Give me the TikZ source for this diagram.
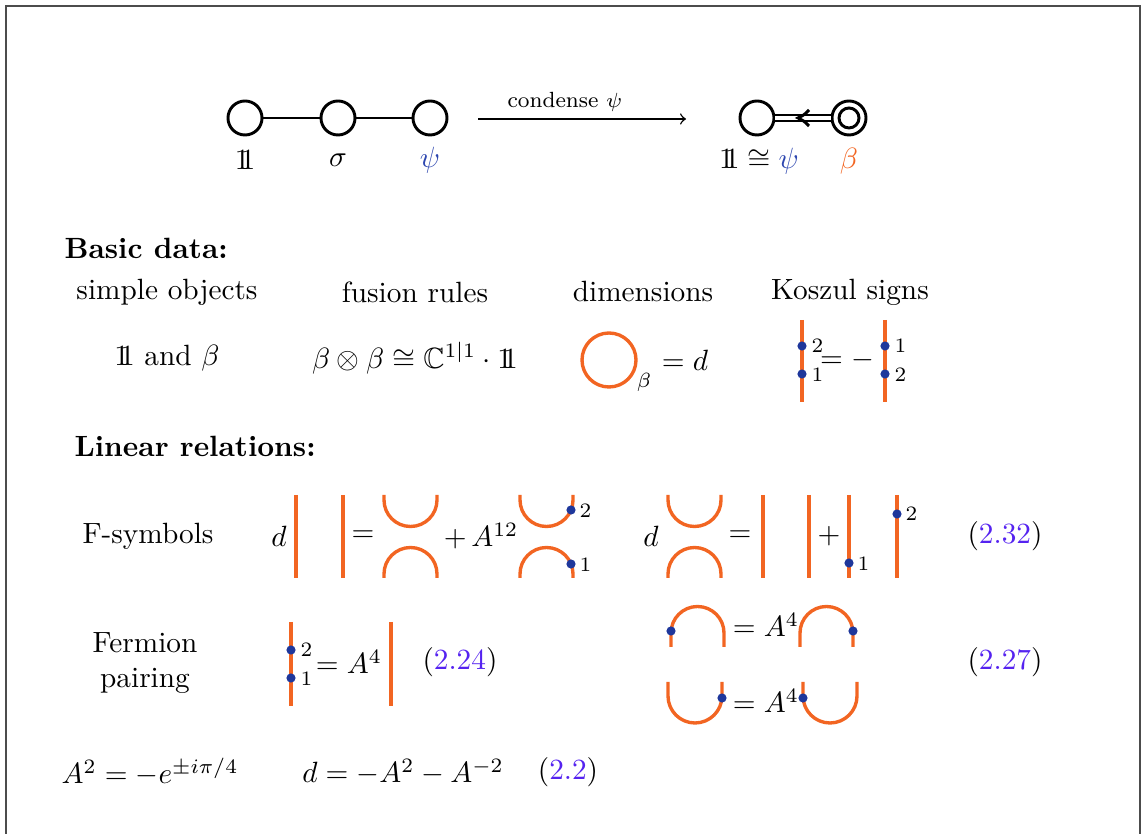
\documentclass[tikz,border=0pt]{standalone}
\usepackage{amssymb}
\IfFileExists{dsfont.sty}{\usepackage{dsfont}\newcommand{\one}{\mathds{1}}}{\newcommand{\one}{\mathrm{1\mkern-5.5mu 1}}}
\definecolor{orng}{RGB}{242,101,34}
\definecolor{psib}{RGB}{45,70,175}
\definecolor{dotb}{RGB}{30,55,155}
\definecolor{linkc}{RGB}{85,35,240}
% cup (U shape): #1 x-left, #2 y of top ends, #3 y where arc begins, #4 radius
\newcommand{\mycup}[4]{\draw[ostr] (#1,#2) -- (#1,#3) .. controls (#1,{#3+0.5523*#4}) and ({#1+#4-0.5523*#4},{#3+#4}) .. ({#1+#4},{#3+#4}) .. controls ({#1+#4+0.5523*#4},{#3+#4}) and ({#1+2*#4},{#3+0.5523*#4}) .. ({#1+2*#4},#3) -- ({#1+2*#4},#2);}
% cap (n shape): #1 x-left, #2 y of bottom ends, #3 y where arc begins, #4 radius
\newcommand{\mycap}[4]{\draw[ostr] (#1,#2) -- (#1,#3) .. controls (#1,{#3-0.5523*#4}) and ({#1+#4-0.5523*#4},{#3-#4}) .. ({#1+#4},{#3-#4}) .. controls ({#1+#4+0.5523*#4},{#3-#4}) and ({#1+2*#4},{#3-0.5523*#4}) .. ({#1+2*#4},#3) -- ({#1+2*#4},#2);}
\begin{document}
\begin{tikzpicture}[x=0.012cm,y=-0.012cm,
  ostr/.style={draw=orng,line width=1.15pt},
  bcirc/.style={circle,draw,line width=1pt,minimum size=0.408cm,inner sep=0pt},
  icirc/.style={circle,draw,line width=1pt,minimum size=0.24cm,inner sep=0pt},
  dotn/.style={circle,fill=dotb,inner sep=0pt,minimum size=0.11cm},
  lbl/.style={font=\scriptsize,inner sep=1pt},
  txt/.style={inner sep=0pt}]
\useasboundingbox (0,0) rectangle (1146,834);
% frame
\draw[line width=0.6pt,black!70] (6,834) -- (6,6) -- (1140,6) -- (1140,834);

% ---------- top diagram ----------
\node[bcirc] (n1) at (245,118) {};
\node[bcirc] (n2) at (338,118) {};
\node[bcirc] (n3) at (430,118) {};
\draw[line width=1pt] (n1) -- (n2);
\draw[line width=1pt] (n2) -- (n3);
\node[txt] (l1) at (245,160) {$\one$};
\node[txt] (l2) at (338,160) {$\sigma$};
\node[txt] (l3) at (430,160) {$\color{psib}\psi$};

\coordinate (a1) at (478,119);
\coordinate (a2) at (686,119);
\draw[->,line width=0.5pt] (a1) -- (a2);
\node[txt,font=\fontsize{7.5}{9}\selectfont] (cond) at (565,102) {condense $\psi$};

\node[bcirc] (m1) at (757,118) {};
\node[bcirc] (m2) at (849,118) {};
\node[icirc] (m2i) at (849,118) {};
\draw[line width=0.85pt,double,double distance=1.3pt] (m1) -- (m2);
\draw[line width=1pt] (809,110) .. controls (804,115) .. (798,118) .. controls (804,121) .. (809,126);
\node[txt] (m1l) at (759,161) {$\one\cong{\color{psib}\psi}$};
\node[txt] (m2l) at (849,161) {$\color{orng}\beta$};

% ---------- basic data ----------
\node[txt,anchor=west,font=\bfseries] (bd) at (64,248) {Basic data:};
\node[txt] (h1) at (167,292) {simple objects};
\node[txt] (h2) at (415,292) {fusion rules};
\node[txt] (h3) at (643,292) {dimensions};
\node[txt] (h4) at (850,292) {Koszul signs};

\node[txt] (r1) at (167,358) {$\one$ and $\beta$};
\node[txt] (r2) at (415,358) {$\beta\otimes\beta\cong\mathbb{C}^{1|1}\cdot\one$};
\draw[ostr] (609,360) circle[radius=27];
\node[txt] (r3b) at (644,382) {$\scriptstyle\beta$};
\node[txt] (r3) at (685,360) {$=d$};

\draw[ostr] (802,320) -- (802,402);
\node[dotn] (k1) at (802,346) {};
\node[dotn] (k2) at (802,374) {};
\node[lbl,anchor=west] at (808,346) {2};
\node[lbl,anchor=west] at (808,375) {1};
\node[txt] (keq) at (847,360) {$=-$};
\draw[ostr] (885,320) -- (885,402);
\node[dotn] (k3) at (885,346) {};
\node[dotn] (k4) at (885,374) {};
\node[lbl,anchor=west] at (891,346) {1};
\node[lbl,anchor=west] at (891,375) {2};

% ---------- linear relations ----------
\node[txt,anchor=west,font=\bfseries] (lr) at (74,446) {Linear relations:};

\node[txt] (fs) at (148,536) {F-symbols};
\node[txt] at (279,536) {$d$};
\draw[ostr] (296,495) -- (296,578);
\draw[ostr] (343,495) -- (343,578);
\node[txt] at (363,536) {$=$};
\mycup{384}{495}{500}{26.5}
\mycap{384}{578}{574}{26.5}
\node[txt] at (481,536) {$+\,A^{12}$};
\mycup{520}{495}{500}{26.5}
\mycap{520}{578}{574}{26.5}
\node[dotn] at (571,510) {};
\node[dotn] at (571,564) {};
\node[lbl,anchor=west] at (576,511) {2};
\node[lbl,anchor=west] at (576,565) {1};

\node[txt] at (651,536) {$d$};
\mycup{668}{495}{500}{26.5}
\mycap{668}{578}{574}{26.5}
\node[txt] at (740,536) {$=$};
\draw[ostr] (763,495) -- (763,578);
\draw[ostr] (809,495) -- (809,578);
\node[txt] at (829,536) {$+$};
\draw[ostr] (849,495) -- (849,578);
\node[dotn] at (849,563) {};
\node[lbl,anchor=west] at (854,564) {1};
\draw[ostr] (897,495) -- (897,578);
\node[dotn] at (897,514) {};
\node[lbl,anchor=west] at (902,514) {2};
\node[txt] at (1005,536) {$({\color{linkc}2.32})$};

% fermion pairing
\node[txt,align=center] (fp) at (145,663) {Fermion\\pairing};
\draw[ostr] (291,622) -- (291,706);
\node[dotn] at (291,650) {};
\node[dotn] at (291,678) {};
\node[lbl,anchor=west] at (297,650) {2};
\node[lbl,anchor=west] at (297,679) {1};
\node[txt] at (349,662) {$=A^4$};
\draw[ostr] (391,622) -- (391,706);
\node[txt] at (460,662) {$({\color{linkc}2.24})$};

\mycap{671}{647}{633}{26.5}
\node[dotn] at (671,631) {};
\node[txt] at (766,625) {$=A^4$};
\mycap{800}{647}{633}{26.5}
\node[dotn] at (853,631) {};

\mycup{668}{682}{696}{27}
\node[dotn] at (722,698) {};
\node[txt] at (766,701) {$=A^4$};
\mycup{803}{682}{696}{27}
\node[dotn] at (803,698) {};
\node[txt] at (1005,662) {$({\color{linkc}2.27})$};

% bottom
\node[txt] at (150,772) {$A^2=-e^{\pm i\pi/4}$};
\node[txt] at (403,772) {$d=-A^2-A^{-2}$};
\node[txt] at (568,772) {$({\color{linkc}2.2})$};
\end{tikzpicture}
\end{document}
